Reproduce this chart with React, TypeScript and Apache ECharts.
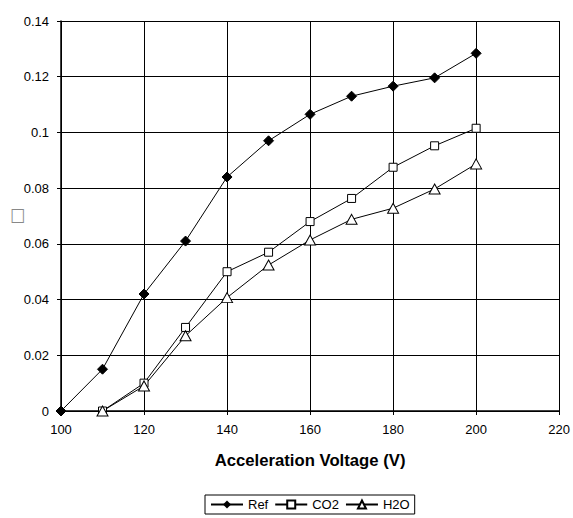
import React, { useEffect, useRef } from "react";
import * as echarts from "echarts";

const voltages = [100, 110, 120, 130, 140, 150, 160, 170, 180, 190, 200];
const refValues = [0, 0.015, 0.042, 0.061, 0.084, 0.097, 0.1065, 0.113, 0.1166, 0.1196, 0.1284];
const co2Values = [null, 0, 0.01, 0.03, 0.05, 0.057, 0.068, 0.0763, 0.0875, 0.0952, 0.1015];
const h2oValues = [null, 0, 0.009, 0.027, 0.0407, 0.0524, 0.0614, 0.0688, 0.0728, 0.0797, 0.0887];
const seriesNames = ["Ref", "CO2", "H2O"];
const xTitle = "Acceleration Voltage (V)";
const yTitle = "□";

const pairs = (vals: (number | null)[]) =>
  voltages.map((v, i) => [v, vals[i]]).filter((p) => p[1] !== null);

export default function App() {
  const ref = useRef<HTMLDivElement>(null);
  useEffect(() => {
    document.body.style.margin = "0";
    const chart = echarts.init(ref.current!, null, { renderer: "svg" });
    const font = "Liberation Sans, Arial, sans-serif";
    chart.setOption({
      animation: false,
      backgroundColor: "#fff",
      textStyle: { fontFamily: font },
      grid: { left: 61, right: 11, top: 21, bottom: 107, containLabel: false },
      graphic: [
        {
          type: "text",
          x: 10,
          y: 205,
          scaleY: 1.15,
          style: {
            text: yTitle,
            font: "16px DejaVu Sans",
            fill: "#888",
          },
        },
      ],
      xAxis: {
        type: "value",
        min: 100,
        max: 220,
        interval: 20,
        name: xTitle,
        nameLocation: "middle",
        nameGap: 41,
        nameTextStyle: { fontFamily: font, fontSize: 16.7, fontWeight: "bold", color: "#000" },
        axisLine: { lineStyle: { color: "#000", width: 1.5 } },
        axisTick: { show: true, inside: false, length: 4, lineStyle: { color: "#000" } },
        axisLabel: { color: "#000", fontSize: 13, fontFamily: font, margin: 12 },
        splitLine: { show: true, lineStyle: { color: "#000", width: 1 } },
      },
      yAxis: {
        type: "value",
        min: 0,
        max: 0.14,
        interval: 0.02,
        axisLine: { show: true, lineStyle: { color: "#000", width: 1.5 } },
        axisTick: { show: true, inside: false, length: 4, lineStyle: { color: "#000" } },
        axisLabel: { color: "#000", fontSize: 13, fontFamily: font, margin: 12 },
        splitLine: { show: true, lineStyle: { color: "#000", width: 1 } },
      },
      legend: {
        left: 205,
        top: 495,
        orient: "horizontal",
        borderColor: "#000",
        borderWidth: 1,
        padding: [3, 5, 3, 5],
        itemGap: 6,
        itemWidth: 32,
        itemHeight: 10,
        textStyle: { fontFamily: font, fontSize: 13, color: "#000" },
        data: seriesNames,
      },
      series: [
        {
          name: seriesNames[0],
          type: "line",
          data: pairs(refValues),
          symbol: "diamond",
          symbolSize: [10, 10],
          lineStyle: { color: "#000", width: 1 },
          itemStyle: { color: "#000", borderColor: "#000" },
        },
        {
          name: seriesNames[1],
          type: "line",
          data: pairs(co2Values),
          symbol: "rect",
          symbolSize: 8,
          showAllSymbol: true,
          lineStyle: { color: "#000", width: 1 },
          itemStyle: { color: "#fff", borderColor: "#000", borderWidth: 1 },
        },
        {
          name: seriesNames[2],
          type: "line",
          data: pairs(h2oValues),
          symbol: "triangle",
          symbolSize: [11, 10],
          lineStyle: { color: "#000", width: 1 },
          itemStyle: { color: "#fff", borderColor: "#000", borderWidth: 1 },
        },
      ],
    });
    return () => chart.dispose();
  }, []);
  return <div ref={ref} style={{ width: 573, height: 518 }} />;
}
